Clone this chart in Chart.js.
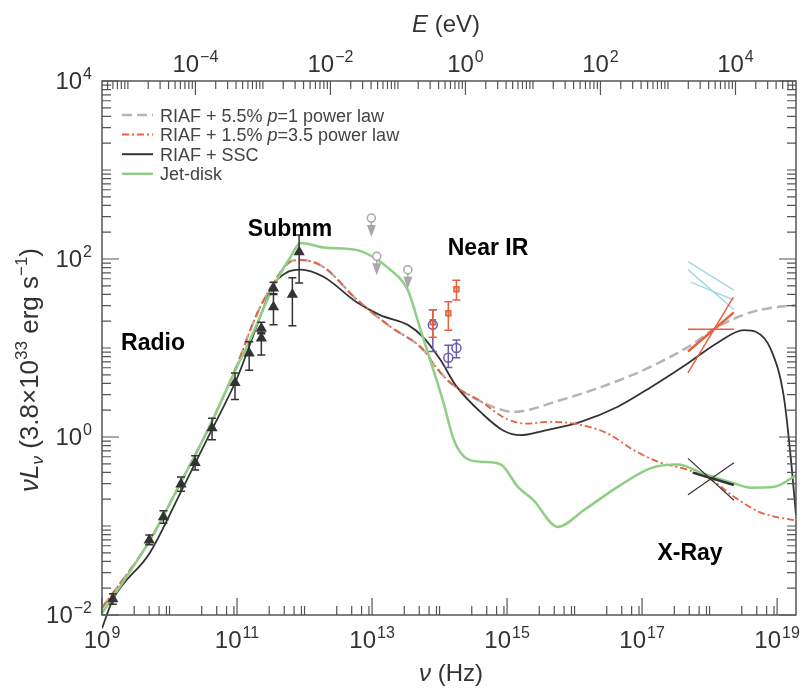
<!DOCTYPE html>
<html>
<head>
<meta charset="utf-8">
<script src="https://cdn.jsdelivr.net/npm/chart.js@4.4.1/dist/chart.umd.min.js"></script>
<style>
  html, body { margin: 0; padding: 0; background: #fff; }
  #wrap { width: 803px; height: 688px; }
</style>
</head>
<body>
<div id="wrap"><canvas id="sed" width="803" height="688"></canvas></div>
<script>
const H_EV = 4.1357e-15;          // Planck constant, eV s
const NU_MIN = 1e9;
const NU_MAX = 10 ** 19.28;
const FONT = '"Liberation Sans", Arial, Helvetica, sans-serif';

/* ── model curves: log10(nu/Hz), log10(nuL_nu) ── */
const sscLogNu = [9.00, 9.16, 9.71, 10.16, 10.60, 11.00, 11.27, 11.54, 11.74, 11.94, 12.28, 12.78, 13.12, 13.53, 13.76, 14.01, 14.24, 14.65, 14.95, 15.20, 15.54, 16.09, 16.64, 17.13, 17.68, 18.12, 18.51, 18.69, 18.91, 19.10, 19.21, 19.28];
const sscLogL  = [-2.15, -1.83, -1.30, -0.63, 0.04, 0.66, 1.20, 1.71, 1.85, 1.88, 1.80, 1.51, 1.37, 1.26, 1.12, 0.87, 0.58, 0.25, 0.07, 0.02, 0.07, 0.17, 0.34, 0.56, 0.83, 1.06, 1.20, 1.18, 0.98, 0.45, -0.29, -0.88];

const p35LogNu = [9.00, 9.71, 10.16, 10.60, 11.00, 11.27, 11.54, 11.79, 11.94, 12.28, 12.78, 13.27, 13.76, 13.91, 14.16, 14.61, 15.00, 15.30, 15.60, 15.99, 16.49, 16.88, 17.28, 17.68, 18.02, 18.36, 18.76, 19.28];
const p35LogL  = [-1.92, -1.16, -0.52, 0.13, 0.81, 1.34, 1.73, 1.97, 1.99, 1.91, 1.54, 1.24, 0.98, 0.82, 0.61, 0.40, 0.20, 0.15, 0.17, 0.15, 0.04, -0.15, -0.29, -0.37, -0.48, -0.67, -0.85, -0.94];

const p1LogNu = [9.00, 9.71, 10.16, 10.60, 11.00, 11.27, 11.54, 11.79, 11.94, 12.28, 12.78, 13.27, 13.76, 13.91, 14.16, 14.61, 14.90, 15.10, 15.35, 15.65, 16.39, 17.13, 17.72, 18.12, 18.61, 18.99, 19.28];
const p1LogL  = [-1.92, -1.16, -0.52, 0.13, 0.81, 1.34, 1.73, 1.97, 1.99, 1.91, 1.54, 1.24, 0.98, 0.82, 0.61, 0.40, 0.31, 0.28, 0.31, 0.38, 0.56, 0.79, 1.03, 1.24, 1.40, 1.46, 1.48];

const jetLogNu = [9.00, 9.71, 10.16, 10.60, 11.00, 11.15, 11.54, 11.79, 11.94, 12.28, 12.78, 13.02, 13.27, 13.53, 13.72, 13.91, 14.06, 14.21, 14.42, 14.65, 14.91, 15.16, 15.39, 15.75, 16.14, 16.64, 17.13, 17.53, 17.87, 18.36, 18.61, 18.96, 19.28];
const jetLogL  = [-1.98, -1.16, -0.52, 0.13, 0.79, 1.02, 1.69, 2.02, 2.18, 2.13, 2.10, 2.02, 1.88, 1.65, 1.20, 0.75, 0.38, -0.03, -0.25, -0.28, -0.31, -0.56, -0.71, -1.01, -0.82, -0.56, -0.35, -0.31, -0.40, -0.52, -0.57, -0.56, -0.43];

/* ── radio / submm measurements ── */
const radioLogNu = [9.16, 9.70, 9.91, 10.17, 10.38, 10.63, 10.97, 11.18, 11.36, 11.36, 11.54, 11.54, 11.82, 11.92];
const radioLogL  = [-1.82, -1.16, -0.90, -0.53, -0.29, 0.10, 0.61, 0.94, 1.22, 1.11, 1.67, 1.46, 1.60, 2.08];
const radioLo    = [-1.88, -1.21, -0.97, -0.61, -0.37, -0.03, 0.42, 0.75, 1.16, 0.92, 1.61, 1.26, 1.25, 1.73];
const radioHi    = [-1.76, -1.10, -0.83, -0.45, -0.21, 0.21, 0.72, 1.07, 1.29, 1.17, 1.74, 1.60, 1.79, 2.27];

/* ── mid-IR upper limits ── */
const limLogNu = [12.99, 13.07, 13.53];
const limLogL  = [2.46, 2.03, 1.88];

/* ── near-IR flares (red) and quiescent (blue) ── */
const nirFlareLogNu = [13.90, 14.13, 14.25];
const nirFlareLogL  = [1.29, 1.39, 1.66];
const nirFlareLo    = [1.12, 1.20, 1.54];
const nirFlareHi    = [1.43, 1.52, 1.76];
const nirQuietLogNu = [13.90, 14.13, 14.25];
const nirQuietLogL  = [1.26, 0.89, 1.00];
const nirQuietLo    = [0.96, 0.78, 0.89];
const nirQuietHi    = [1.43, 1.03, 1.09];

/* ── X-ray bow ties: [logNu1, logL1, logNu2, logL2] ── */
const xFlareSegs = [[17.68, 1.21, 18.36, 1.21], [17.68, 0.72, 18.35, 1.57], [17.68, 0.96, 18.36, 1.40]];
const xCyanSegs  = [[17.68, 1.97, 18.36, 1.65], [17.68, 1.88, 18.36, 1.43], [17.72, 1.74, 18.36, 1.54]];
const xQuietSegs = [[17.68, -0.24, 18.36, -0.71], [17.68, -0.65, 18.36, -0.29], [17.75, -0.40, 18.36, -0.54]];

const xTickLabels = [9, 11, 13, 15, 17, 19];
const eTickLabels = [-4, -2, 0, 2, 4];
const yTickLabels = [-2, 0, 2, 4];

const C_SSC  = '#333333';
const C_P35  = '#e8603c';
const C_P1   = '#b4b4b4';
const C_JET  = '#8fcf84';
const C_NIRQ = '#6a5db0';
const C_CYAN = '#a6d8e4';
const C_AXIS = '#555555';
const C_TEXT = '#333333';

const pts = (xs, ys) => xs.map((x, i) => ({ x: 10 ** x, y: 10 ** ys[i] }));

function curve(label, xs, ys, color, width, dash, clip) {
  return {
    label, data: pts(xs, ys),
    borderColor: color, borderWidth: width, borderDash: dash || [],
    pointRadius: 0, fill: false, cubicInterpolationMode: 'monotone',
    clip: clip || 0
  };
}

function segs(list, color, widths) {
  return list.map((s, i) => ({
    label: 'seg', data: [{ x: 10 ** s[0], y: 10 ** s[1] }, { x: 10 ** s[2], y: 10 ** s[3] }],
    borderColor: color, borderWidth: widths[i], pointRadius: 0, fill: false, tension: 0
  }));
}

function markers(xs, ys, style, radius, border, bg, extra) {
  return Object.assign({
    data: pts(xs, ys), showLine: false,
    pointStyle: style, pointRadius: radius, pointBorderColor: border,
    pointBackgroundColor: bg, pointBorderWidth: 1.5
  }, extra || {});
}

/* ── drawing helpers ── */
function powLabel(ctx, exp, x, y, align) {
  const sup = String(exp).replace('-', '\u2212');
  ctx.font = '24px ' + FONT;
  const wb = ctx.measureText('10').width;
  ctx.font = '16px ' + FONT;
  const ws = ctx.measureText(sup).width;
  const total = wb + ws + 1;
  const left = align === 'right' ? x - total : x - total / 2;
  ctx.textAlign = 'left';
  ctx.textBaseline = 'alphabetic';
  ctx.font = '24px ' + FONT;
  ctx.fillText('10', left, y);
  ctx.font = '16px ' + FONT;
  ctx.fillText(sup, left + wb + 1, y - 10);
}

// pieces: [text, font, dy]
function richText(ctx, pieces, x, y, align) {
  let w = 0;
  pieces.forEach(p => { ctx.font = p[1]; w += ctx.measureText(p[0]).width; });
  let cx = align === 'center' ? x - w / 2 : x;
  ctx.textAlign = 'left';
  ctx.textBaseline = 'alphabetic';
  pieces.forEach(p => {
    ctx.font = p[1];
    ctx.fillText(p[0], cx, y + (p[2] || 0));
    cx += ctx.measureText(p[0]).width;
  });
}

function logTicks(min, max, mants) {
  const out = [];
  for (let e = Math.floor(Math.log10(min)) - 1; e <= Math.ceil(Math.log10(max)); e++) {
    for (const m of mants) {
      const v = m * 10 ** e;
      if (v >= min * 0.9999 && v <= max * 1.0001) out.push({ v, e, m });
    }
  }
  return out;
}

const sedPlugin = {
  id: 'sedDecor',
  afterDatasetsDraw(chart) {
    const { ctx, chartArea: a, scales } = chart;
    const xs = scales.x, ys = scales.y, es = scales.xE;
    ctx.save();

    // error bars
    chart.data.datasets.forEach(ds => {
      if (!ds.errLo) return;
      ctx.strokeStyle = ds.errColor;
      ctx.lineWidth = 1.5;
      ds.data.forEach((p, i) => {
        const px = xs.getPixelForValue(p.x);
        const y1 = ys.getPixelForValue(10 ** ds.errLo[i]);
        const y2 = ys.getPixelForValue(10 ** ds.errHi[i]);
        ctx.beginPath();
        ctx.moveTo(px, y1); ctx.lineTo(px, y2);
        ctx.moveTo(px - 4, y1); ctx.lineTo(px + 4, y1);
        ctx.moveTo(px - 4, y2); ctx.lineTo(px + 4, y2);
        ctx.stroke();
      });
    });

    // upper-limit arrows
    chart.data.datasets.forEach(ds => {
      if (!ds.upperLimit) return;
      ctx.strokeStyle = ds.pointBorderColor;
      ctx.fillStyle = ds.pointBorderColor;
      ctx.lineWidth = 1.5;
      ds.data.forEach(p => {
        const px = xs.getPixelForValue(p.x);
        const py = ys.getPixelForValue(p.y);
        ctx.beginPath();
        ctx.moveTo(px, py + 4); ctx.lineTo(px, py + 8); ctx.stroke();
        ctx.beginPath();
        ctx.moveTo(px - 4.5, py + 7); ctx.lineTo(px + 4.5, py + 7); ctx.lineTo(px, py + 19);
        ctx.closePath(); ctx.fill();
      });
    });

    // frame
    ctx.strokeStyle = C_AXIS;
    ctx.lineWidth = 1.5;
    ctx.strokeRect(a.left, a.top, a.right - a.left, a.bottom - a.top);

    // bottom ticks (nu)
    ctx.lineWidth = 1.2;
    ctx.beginPath();
    logTicks(xs.min, xs.max, [1, 3, 5, 7, 9]).forEach(t => {
      const px = xs.getPixelForValue(t.v);
      const len = (t.m === 1 && Math.abs(t.e % 2) === 1) ? 17 : 9;
      ctx.moveTo(px, a.bottom); ctx.lineTo(px, a.bottom - len);
    });
    // top ticks (E)
    logTicks(es.min, es.max, [1, 2, 3, 4, 5, 6, 7, 8, 9]).forEach(t => {
      const px = es.getPixelForValue(t.v);
      const len = (t.m === 1 && t.e % 2 === 0) ? 14 : 8;
      ctx.moveTo(px, a.top); ctx.lineTo(px, a.top + len);
    });
    // left & right ticks
    logTicks(ys.min, ys.max, [1, 2, 3, 4, 5, 6, 7, 8, 9]).forEach(t => {
      const py = ys.getPixelForValue(t.v);
      const len = (t.m === 1 && t.e % 2 === 0) ? 17 : 9;
      ctx.moveTo(a.left, py); ctx.lineTo(a.left + len, py);
      ctx.moveTo(a.right, py); ctx.lineTo(a.right - len, py);
    });
    ctx.stroke();

    // tick labels
    ctx.fillStyle = C_TEXT;
    xTickLabels.forEach(e => powLabel(ctx, e, xs.getPixelForValue(10 ** e), a.bottom + 33, 'center'));
    eTickLabels.forEach(e => powLabel(ctx, e, es.getPixelForValue(10 ** e), a.top - 9, 'center'));
    yTickLabels.forEach(e => powLabel(ctx, e, a.left - 10, ys.getPixelForValue(10 ** e) + 8, 'right'));

    // axis titles
    const reg = '24px ' + FONT, ita = 'italic 24px ' + FONT;
    richText(ctx, [['\u03bd', ita], [' (Hz)', reg]], 451, a.bottom + 66, 'center');
    richText(ctx, [['E', ita], [' (eV)', reg]], 446, 32, 'center');
    const yr = '26px ' + FONT, yi = 'italic 26px ' + FONT;
    const ys2 = '17px ' + FONT, ysi = 'italic 17px ' + FONT;
    ctx.save();
    ctx.translate(38, 370);
    ctx.rotate(-Math.PI / 2);
    richText(ctx, [['\u03bd', yi], ['L', yi], ['\u03bd', ysi, 5], [' (3.8\u00d710', yr],
      ['33', ys2, -11], [' erg s', yr], ['\u22121', ys2, -11], [')', yr]], 0, 0, 'center');
    ctx.restore();

    // legend
    const rows = [
      { color: C_P1, width: 2.5, dash: [10, 5], text: [['RIAF + 5.5% ', '18px ' + FONT], ['p', 'italic 18px ' + FONT], ['=1 power law', '18px ' + FONT]] },
      { color: C_P35, width: 2, dash: [7, 3, 2, 3], text: [['RIAF + 1.5% ', '18px ' + FONT], ['p', 'italic 18px ' + FONT], ['=3.5 power law', '18px ' + FONT]] },
      { color: C_SSC, width: 2, dash: [], text: [['RIAF + SSC', '18px ' + FONT]] },
      { color: C_JET, width: 2.5, dash: [], text: [['Jet-disk', '18px ' + FONT]] }
    ];
    rows.forEach((r, i) => {
      const y = 115 + i * 19.6;
      ctx.strokeStyle = r.color;
      ctx.lineWidth = r.width;
      ctx.setLineDash(r.dash);
      ctx.beginPath(); ctx.moveTo(122, y); ctx.lineTo(153, y); ctx.stroke();
      ctx.setLineDash([]);
      ctx.fillStyle = '#444';
      richText(ctx, r.text, 160, y + 6.5, 'left');
    });

    // band annotations
    ctx.fillStyle = '#000';
    ctx.font = 'bold 23px ' + FONT;
    ctx.textAlign = 'center';
    ctx.textBaseline = 'middle';
    ctx.fillText('Radio', 153, 344);
    ctx.fillText('Submm', 290, 230);
    ctx.fillText('Near IR', 488, 249);
    ctx.fillText('X-Ray', 690, 554);

    ctx.restore();
  }
};

const datasets = [
  markers(radioLogNu, radioLogL, 'triangle', 5, '#333', '#333', { errLo: radioLo, errHi: radioHi, errColor: '#333' }),
  markers(nirQuietLogNu, nirQuietLogL, 'circle', 4.5, C_NIRQ, 'rgba(255,255,255,0)', { errLo: nirQuietLo, errHi: nirQuietHi, errColor: C_NIRQ }),
  markers(nirFlareLogNu, nirFlareLogL, 'rect', 3.5, C_P35, 'rgba(232,96,60,0.45)', { errLo: nirFlareLo, errHi: nirFlareHi, errColor: C_P35 }),
  markers(limLogNu, limLogL, 'circle', 4, '#a8a8a8', '#fff', { upperLimit: true }),
  ...segs(xQuietSegs, '#333', [1.2, 1.2, 2.5]),
  ...segs(xFlareSegs, C_P35, [1.5, 1.5, 2.5]),
  ...segs(xCyanSegs, C_CYAN, [1.5, 1.5, 1.5]),
  curve('Jet-disk', jetLogNu, jetLogL, C_JET, 2.5),
  curve('RIAF + 1.5% p=3.5 power law', p35LogNu, p35LogL, C_P35, 1.8, [7, 3, 2, 3]),
  curve('RIAF + SSC', sscLogNu, sscLogL, C_SSC, 1.8, null, { left: 0, top: 0, right: 0, bottom: 16 }),
  curve('RIAF + 5.5% p=1 power law', p1LogNu, p1LogL, C_P1, 2.5, [10, 5])
];

new Chart(document.getElementById('sed').getContext('2d'), {
  type: 'line',
  data: { datasets },
  options: {
    responsive: false,
    animation: false,
    layout: { padding: { left: 102, top: 81, right: 7, bottom: 73 } },
    plugins: { legend: { display: false }, tooltip: { enabled: false } },
    scales: {
      x:  { type: 'logarithmic', min: NU_MIN, max: NU_MAX, display: false },
      xE: { type: 'logarithmic', position: 'top', min: NU_MIN * H_EV, max: NU_MAX * H_EV, display: false },
      y:  { type: 'logarithmic', min: 1e-2, max: 1e4, display: false }
    }
  },
  plugins: [sedPlugin]
});
</script>
</body>
</html>
